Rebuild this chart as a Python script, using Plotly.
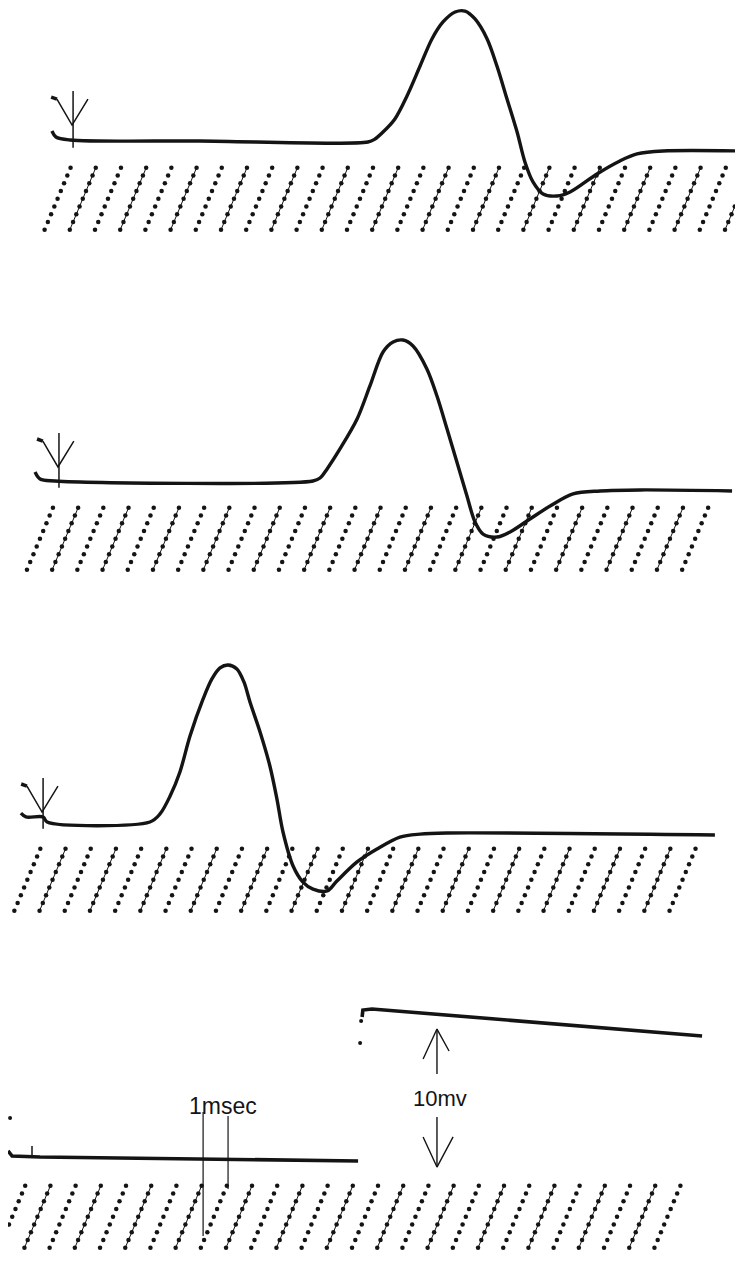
import numpy as np
import plotly.graph_objects as go

# ---------------- data: time in ms, potential in mV (0 = resting baseline) ----------------
# Panel 1 – action potential, long latency
p1_t = [2.06, 2.22, 2.78, 7.94, 14.60, 14.88, 15.20, 15.67, 16.15, 16.67, 17.14, 17.58, 18.06,
        18.45, 18.85, 19.33, 19.72, 20.12, 20.52, 20.83, 21.15, 21.55, 22.10, 22.62,
        23.69, 24.60, 25.28, 26.31, 29.48]
p1_v = [0.67, 0.27, 0.07, 0.00, -0.07, 0.13, 0.60, 1.48, 3.02, 5.03, 6.85, 7.99, 8.66,
        8.72, 8.19, 6.85, 5.03, 2.82, 0.60, -1.41, -2.75, -3.56, -3.69, -3.42,
        -2.21, -1.34, -0.87, -0.67, -0.67]

# Panel 2 – action potential, medium latency
p2_t = [1.39, 1.59, 2.18, 12.42, 12.70, 12.98, 13.49, 14.17, 14.68, 15.20, 15.60, 15.99,
        16.39, 16.94, 17.34, 17.74, 18.13, 18.53, 18.85, 19.17, 19.72, 20.24, 21.03, 21.83,
        22.74, 23.81, 25.40, 29.05]
p2_v = [0.60, 0.13, 0.00, 0.00, 0.20, 0.81, 2.15, 4.16, 6.38, 8.66, 9.33, 9.46,
        9.06, 7.52, 5.70, 3.49, 1.28, -1.01, -2.75, -3.56, -3.76, -3.42, -2.55, -1.68,
        -0.87, -0.67, -0.60, -0.67]

# Panel 3 – action potential, short latency
p3_t = [0.83, 1.03, 1.71, 1.87, 5.95, 6.35, 6.75, 7.14, 7.54, 8.06, 8.41, 8.73, 9.05, 9.40,
        9.68, 9.92, 10.32, 10.71, 10.99, 11.23, 11.63, 12.02, 12.42, 12.98, 13.37, 14.17,
        14.96, 15.87, 16.67, 17.74, 28.37]
p3_v = [0.60, 0.34, 0.34, 0.00, 0.00, 0.54, 1.74, 3.36, 5.77, 8.26, 9.60, 10.34, 10.54, 10.27,
        9.40, 8.05, 6.04, 3.76, 1.54, -0.67, -2.95, -4.03, -4.50, -4.63, -3.96, -2.68,
        -1.81, -1.01, -0.81, -0.74, -0.87]

# Panel 4 – calibration: baseline and 10 mV step
p4_base_t = [0.32, 0.48, 1.59, 14.21]
p4_base_v = [0.54, 0.20, 0.13, -0.13]
p4_step_t = [14.37, 14.40, 14.76, 27.86]
p4_step_v = [9.53, 10.00, 10.07, 8.26]
p4_dots_t = [0.40, 14.33, 14.29]
p4_dots_v = [2.75, 9.26, 7.79]
p4_tick_t = [1.27, 1.27]
p4_tick_v = [0.87, 0.20]

# Stimulus artifacts (vertex of the V mark): time (ms), potential (mV)
artifact_t = [2.86, 2.30, 1.67]
artifact_v = [1.07, 0.94, 0.67]

# Time markers (1 ms), time of top of each dotted marker line
p1_marks = [2.8, 3.8, 4.8, 5.8, 6.8, 7.8, 8.8, 9.8, 10.8, 11.8, 12.8, 13.8, 14.8, 15.8,
            16.8, 17.8, 18.8, 19.8, 20.8, 21.8, 22.8, 23.8, 24.8, 25.8, 26.8, 27.8, 28.8, 29.8]
p2_marks = [2.1, 3.1, 4.1, 5.1, 6.1, 7.1, 8.1, 9.1, 10.1, 11.1, 12.1, 13.1, 14.1, 15.1,
            16.1, 17.1, 18.1, 19.1, 20.1, 21.1, 22.1, 23.1, 24.1, 25.1, 26.1, 27.1, 28.1]
p3_marks = [1.6, 2.6, 3.6, 4.6, 5.6, 6.6, 7.6, 8.6, 9.6, 10.6, 11.6, 12.6, 13.6, 14.6,
            15.6, 16.6, 17.6, 18.6, 19.6, 20.6, 21.6, 22.6, 23.6, 24.6, 25.6, 26.6, 27.6]
p4_marks = [1.0, 2.0, 3.0, 4.0, 5.0, 6.0, 7.0, 8.0, 9.0, 10.0, 11.0, 12.0, 13.0, 14.0,
            15.0, 16.0, 17.0, 18.0, 19.0, 20.0, 21.0, 22.0, 23.0, 24.0, 25.0, 26.0, 27.0]

# Calibration bars
cal_ms_t = [8.06, 9.05]
cal_ms_top = [3.15, 2.89]
cal_ms_bot = [-5.17, -2.01]
cal_mv_t = 17.34
cal_label_ms = "1msec"
cal_label_mv = "10mv"

# ---------------- layout constants ----------------
PAGE_W, PAGE_H = 743, 1262
OFF = 8                      # default page margin of the browser body
W, H = PAGE_W - OFF, PAGE_H - OFF
PX_PER_MS = 25.2
PX_PER_MV = 14.9
bands = [(OFF, 315), (315, 630), (630, 945), (945, PAGE_H)]   # page pixels
baselines_px = [141, 481, 822, 1159]                          # page pixels
INK = "#141414"

fig = go.Figure()
yrefs = ["y", "y2", "y3", "y4"]


def add_line(x, y, yr, width=3.4, shape="spline", color=INK):
    fig.add_trace(go.Scatter(x=x, y=y, yaxis=yr, mode="lines",
                             line=dict(color=color, width=width, shape=shape, smoothing=0.9),
                             hoverinfo="skip", showlegend=False))


# time-marker dotted diagonals
MARK_TOP, MARK_BOT, MARK_RUN, NDOT = -1.8, -5.96, 1.03, 9


def add_marks(times, yr):
    dx, dy, lx, ly = [], [], [], []
    for i, t in enumerate(times):
        xs = list(np.linspace(t - MARK_RUN, t, NDOT))
        ys = list(np.linspace(MARK_BOT, MARK_TOP, NDOT))
        dx += xs + [None]
        dy += ys + [None]
        if i % 2 == 1:
            lx += [xs[0], xs[-1], None]
            ly += [ys[0], ys[-1], None]
    fig.add_trace(go.Scatter(x=lx, y=ly, yaxis=yr, mode="lines",
                             line=dict(color=INK, width=1), hoverinfo="skip", showlegend=False))
    fig.add_trace(go.Scatter(x=dx, y=dy, yaxis=yr, mode="markers",
                             marker=dict(color=INK, size=4.5), hoverinfo="skip", showlegend=False))


def add_artifact(t0, v0, yr):
    xs = [t0 - 0.83, t0 - 0.60, None, t0 - 0.60, t0, t0 + 0.63, None, t0 + 0.04, t0 + 0.04]
    ys = [v0 + 1.88, v0 + 1.74, None, v0 + 1.74, v0, v0 + 1.74, None, v0 + 2.28, -0.45]
    fig.add_trace(go.Scatter(x=xs[:2], y=ys[:2], yaxis=yr, mode="lines",
                             line=dict(color=INK, width=3.5), hoverinfo="skip", showlegend=False))
    fig.add_trace(go.Scatter(x=xs[3:], y=ys[3:], yaxis=yr, mode="lines",
                             line=dict(color=INK, width=1.5), hoverinfo="skip", showlegend=False))


traces = [(p1_t, p1_v), (p2_t, p2_v), (p3_t, p3_v)]
marks = [p1_marks, p2_marks, p3_marks, p4_marks]

for k in range(3):
    add_line(traces[k][0], traces[k][1], yrefs[k])
    add_artifact(artifact_t[k], artifact_v[k], yrefs[k])
for k in range(4):
    add_marks(marks[k], yrefs[k])

# calibration panel
add_line(p4_base_t, p4_base_v, "y4", width=3.6, shape="linear")
add_line(p4_step_t, p4_step_v, "y4", width=3.6, shape="linear")
add_line(p4_tick_t, p4_tick_v, "y4", width=1.5, shape="linear")
fig.add_trace(go.Scatter(x=p4_dots_t, y=p4_dots_v, yaxis="y4", mode="markers",
                         marker=dict(color=INK, size=4), hoverinfo="skip", showlegend=False))
for t, a, b in zip(cal_ms_t, cal_ms_top, cal_ms_bot):
    add_line([t, t], [a, b], "y4", width=1.2, shape="linear")

# 10 mV arrows
up_x = [cal_mv_t, cal_mv_t, None, cal_mv_t - 0.55, cal_mv_t, cal_mv_t + 0.48]
up_y = [5.70, 8.72, None, 6.71, 8.72, 7.25]
dn_x = [cal_mv_t, cal_mv_t, None, cal_mv_t - 0.55, cal_mv_t, cal_mv_t + 0.64]
dn_y = [2.82, -0.54, None, 1.48, -0.54, 1.48]
add_line(up_x, up_y, "y4", width=1.4, shape="linear")
add_line(dn_x, dn_y, "y4", width=1.4, shape="linear")

fig.add_annotation(x=8.85, y=3.56, xref="x", yref="y4", text=cal_label_ms, showarrow=False,
                   font=dict(family="Liberation Sans", size=23, color=INK))
fig.add_annotation(x=17.46, y=4.03, xref="x", yref="y4", text=cal_label_mv, showarrow=False,
                   font=dict(family="Liberation Sans", size=22, color=INK))

# axes (page pixel bands converted to figure domain)
layout_axes = {}
for k, ((top, bot), b) in enumerate(zip(bands, baselines_px)):
    name = "yaxis" if k == 0 else f"yaxis{k + 1}"
    layout_axes[name] = dict(domain=[1 - (bot - OFF) / H, 1 - (top - OFF) / H],
                             range=[-(bot - b) / PX_PER_MV, (b - top) / PX_PER_MV],
                             visible=False, anchor="x", fixedrange=True)

fig.update_layout(
    width=W, height=H, autosize=False,
    margin=dict(l=0, r=0, t=0, b=0),
    paper_bgcolor="white", plot_bgcolor="white",
    xaxis=dict(range=[OFF / PX_PER_MS, PAGE_W / PX_PER_MS], visible=False, fixedrange=True),
    showlegend=False,
    **layout_axes,
)

fig.write_html("out.html", config={"displayModeBar": False})
